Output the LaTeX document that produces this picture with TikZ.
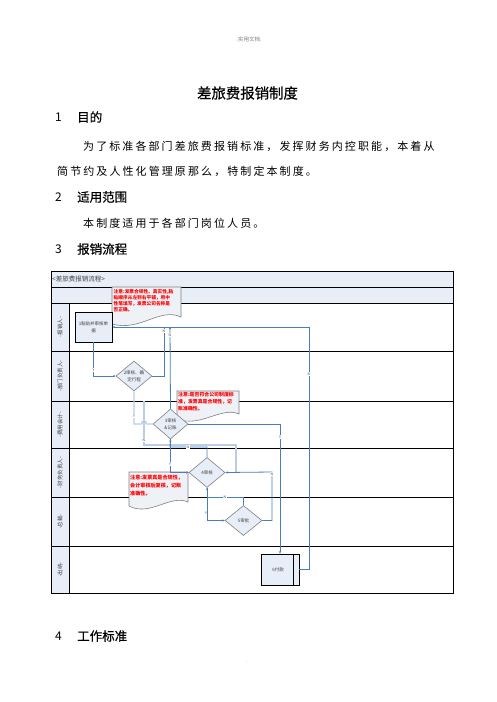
\documentclass[tikz,border=0pt]{standalone}
\usepackage{fontspec}
\setmainfont{Noto Sans CJK SC}
\newfontfamily\bodyfont[LetterSpace=19]{Noto Sans CJK SC}
\newfontfamily\headfont[FakeBold=0.6]{Noto Sans CJK SC}
\usetikzlibrary{shapes.geometric,arrows.meta}
\definecolor{lineblue}{HTML}{4A7EBB}
\definecolor{lightline}{HTML}{BACDE8}
\definecolor{fillblue}{HTML}{E8EEF8}
\definecolor{notefill}{HTML}{EEF1F6}
\definecolor{greyline}{HTML}{808080}
\definecolor{txtgrey}{HTML}{404040}
\begin{document}
\begin{tikzpicture}[x=1pt,y=-1pt,
  titletext/.style={font=\fontsize{14.4}{16}\headfont, inner sep=0},
  headnum/.style={font=\fontsize{12}{14}\selectfont, anchor=west, inner sep=0},
  headtext/.style={font=\fontsize{12.5}{14}\headfont, anchor=west, inner sep=0},
  bodytext/.style={font=\fontsize{11}{13}\bodyfont, anchor=west, inner sep=0},
  lanelbl/.style={rotate=90, font=\fontsize{5.5}{6}\selectfont, text=txtgrey, inner sep=0},
  procbox/.style={draw=black, fill=fillblue, line width=0.8pt, minimum width=37pt, minimum height=30pt, inner sep=1pt, font=\fontsize{4.5}{7}\selectfont, text=txtgrey, align=center},
  dia/.style={diamond, draw=greyline, fill=fillblue, line width=0.6pt, minimum width=36pt, minimum height=30pt, inner sep=0pt},
  dtext/.style={font=\fontsize{4.5}{7}\selectfont, text=txtgrey, align=center, inner sep=0},
  flow/.style={draw=lineblue, line width=0.8pt, -{Stealth[length=2.5pt,width=2.2pt]}},
  flowplain/.style={draw=lineblue, line width=0.8pt},
  lflow/.style={draw=lightline, line width=1.4pt},
  yn/.style={font=\fontsize{3.5}{4}\selectfont, text=txtgrey, fill=white, inner sep=0.3pt},
  notebox/.style={draw=greyline, fill=notefill, line width=0.6pt},
  notetext/.style={font=\fontsize{4.7}{6}\selectfont\bfseries, text=red, align=left, anchor=north west, inner sep=0},
  tline/.style={draw=black, line width=1pt}
]
\useasboundingbox (0,0) rectangle (496,702);
\fill[white] (0,0) rectangle (496,702);

% page header / footer
\node[font=\fontsize{5.5}{6}\selectfont, text=greyline, inner sep=0] (pghead) at (249,39) {.实用文档.};
\node[font=\fontsize{5}{6}\selectfont, text=greyline, inner sep=0] (pgfoot) at (247,662) {.};

% title and text
\node[titletext] (ttl) at (247.5,93) {差旅费报销制度};
\node[headnum] (h1n) at (55,117) {1};
\node[headtext] (h1) at (77,117) {目的};
\node[bodytext] (p1) at (83,146) {为了标准各部门差旅费报销标准，发挥财务内控职能，本着从};
\node[bodytext] (p2) at (57,171) {简节约及人性化管理原那么，特制定本制度。};
\node[headnum] (h2n) at (55,197) {2};
\node[headtext] (h2) at (77,197) {适用范围};
\node[bodytext] (p3) at (83,223) {本制度适用于各部门岗位人员。};
\node[headnum] (h3n) at (55,249) {3};
\node[headtext] (h3) at (77,249) {报销流程};
\node[headnum] (h4n) at (55,636) {4};
\node[headtext] (h4) at (77,636) {工作标准};

% table
\fill[fillblue] (51,271) rectangle (453,303);
\fill[fillblue] (51,303) rectangle (69,593);
\draw[tline] (51,287) -- (453,287);
\draw[tline] (51,303) -- (453,303);
\foreach \yy in {351,401,448,497,546} { \draw[tline] (51,\yy) -- (453,\yy); }
\draw[tline] (69,303) -- (69,593);
\draw[tline] (51,271) rectangle (453,593);
\node[anchor=west, font=\fontsize{6.5}{7}\selectfont, text=txtgrey, inner sep=0] (hdr) at (52,279) {<差旅费报销流程>};

% lane labels
\node[lanelbl] (L1) at (60,327) {-报销人-};
\node[lanelbl] (L2) at (60,376) {-部门负责人-};
\node[lanelbl] (L3) at (60,424.5) {-费用会计-};
\node[lanelbl] (L4) at (60,472.5) {-财务负责人-};
\node[lanelbl] (L5) at (60,521.5) {-总裁-};
\node[lanelbl] (L6) at (60,569.5) {-出纳-};

% notes (document shapes)
\draw[notebox] (112,287) -- (181,287) -- (181,317) .. controls (160,307) and (140,332) .. (112,324) -- cycle;
\node[notetext] (t1) at (113.5,289) {注意:发票合规性、真实性,粘\\贴顺序从左到右平铺，用中\\性笔填写，发票公司名称是\\否正确。};
\draw[notebox] (177,391) -- (239,391) -- (239,414) .. controls (222,406) and (200,428) .. (177,419) -- cycle;
\node[notetext, font=\fontsize{4.9}{7}\selectfont\bfseries] (t2) at (178,392.5) {注意:是否符合公司制度标\\准，发票真是合规性，记\\账准确性。};
\draw[notebox] (129,472) -- (188,472) -- (188,502) .. controls (170,494) and (150,517) .. (129,506) -- cycle;
\node[notetext, font=\fontsize{5.1}{8}\selectfont\bfseries] (t3) at (130,475) {注意:发票真是合规性，\\会计审核后复核，记账\\准确性。};

% nodes
\node[procbox] (n1) at (93.5,327) {1粘贴并审核单\\据};
\node[dia] (d2) at (134,376) {};
\node[dia, minimum width=35pt] (d3) at (170.5,424) {};
\node[dia] (d4) at (207,472.5) {};
\node[dia, minimum width=37pt] (d5) at (243.5,520.5) {};
\node[procbox, minimum width=38pt, minimum height=31pt] (n6) at (280,569.5) {6付款\hspace{4pt}};

% connector points
\coordinate (j1) at (164,327);
\coordinate (j2) at (170,327);
\coordinate (r1) at (309,327);
\coordinate (m1) at (236,472);
\coordinate (m2) at (144,401);

% light connectors
\draw[lflow] (d2.south) -- (134,424) -- (141.5,424) .. controls (141.5,420) and (146.5,420) .. (146.5,424) -- (d3.west);
\draw[lflow] (m1) -- (236,445) -- (144,445) -- (m2);

% dark connectors
\draw[flow] (n1.south) |- (d2.west);
\draw[flowplain] (d2.east) -| (j1);
\draw[flow] (n6.east) -| (r1) -- (n1.east);
\draw[flow] (d3.north) -- (j2);
\draw[flow] (d3.east) -| (n6.north);
\draw[flow] (d3.south) |- (d4.west);
\draw[flow] (d4.north) |- (170,447) -- (d3.south);
\draw[flow] (d4.south) |- (d5.west);
\draw[flow] (d5.north) |- (207,497) -- (d4.south);
\draw[flow] (d5.east) -| (272,472) -- (d4.east);

% diamond texts
\node[dtext] (d2t) at (d2) {2审核、确\\定行程};
\node[dtext] (d3t) at (d3) {3审核\\\&记账};
\node[dtext] (d4t) at (d4) {4审核};
\node[dtext] (d5t) at (d5) {5审批};
\draw[black, line width=0.8pt] ([xshift=-6pt]n6.north east) -- ([xshift=-6pt]n6.south east);

% Y / N labels
\node[yn] (y1) at (93.5,370) {Y};
\node[yn] (y2) at (164,331) {N};
\node[yn] (y3) at (170,335) {N};
\node[yn] (y4) at (309,374) {N};
\node[yn] (y5) at (134,416) {Y};
\node[yn] (y6) at (144,440) {N};
\node[yn] (y7) at (280,437) {Y};
\node[yn] (y8) at (170,464) {Y};
\node[yn] (y9) at (188,447) {N};
\node[yn] (y10) at (206,513) {Y};
\node[yn] (y11) at (225,497) {N};
\node[yn] (y12) at (272,474) {N};
\end{tikzpicture}
\end{document}
